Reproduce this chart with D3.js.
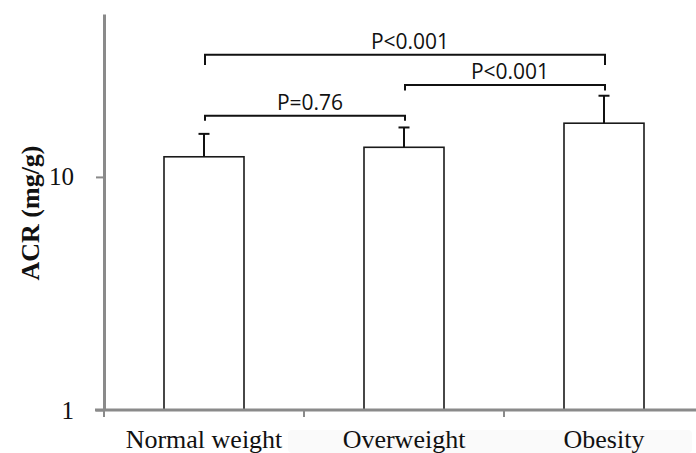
<!DOCTYPE html>
<html>
<head>
<meta charset="utf-8">
<script src="https://cdn.jsdelivr.net/npm/d3@7"></script>
<style>
  html, body { margin: 0; padding: 0; background: #fff; }
  svg { display: block; }
</style>
</head>
<body>
<svg id="chart"></svg>
<script>
// chart data
const categories = ['Normal weight', 'Overweight', 'Obesity']
const means = [12.2, 13.4, 17.0]
const upperErr = [15.3, 16.3, 22.3]
const yTicks = [1, 10]

// significance brackets: which bars, bracket level and foot (ACR units), label
const bracketFrom = [0, 1, 0]
const bracketTo = [1, 2, 2]
const bracketLevel = [18.3, 24.8, 33.4]
const bracketFoot = [17.4, 23.5, 30.2]
const bracketLabel = ['P=0.76', 'P<0.001', 'P<0.001']

const WIDTH = 696
const HEIGHT = 453
const AXIS_COLOR = '#8a8a8a'

const svg = d3.select('#chart')
  .attr('width', WIDTH)
  .attr('height', HEIGHT)

// x: one band per category, bars take the middle 40%
const x = d3.scaleBand()
  .domain(categories)
  .range([104, 704])
  .padding(0)

const y = d3.scaleLog()
  .domain([1, 50])
  .range([410, 14])

const bw = x.bandwidth()
const barW = bw * 0.4
const cx = (i) => x(categories[i]) + bw / 2

// very faint grey strip behind the category labels (as in the scan)
svg.append('rect')
  .attr('x', 288)
  .attr('y', 430)
  .attr('width', 404)
  .attr('height', 23)
  .attr('rx', 4)
  .attr('fill', '#fafafa')

// bars
svg.selectAll('rect.bar')
  .data(means)
  .join('rect')
  .attr('class', 'bar')
  .attr('x', (d, i) => cx(i) - barW / 2)
  .attr('y', (d) => y(d))
  .attr('width', barW)
  .attr('height', (d) => y(1) - y(d))
  .attr('fill', '#fff')
  .attr('stroke', '#1a1a1a')
  .attr('stroke-width', 1.6)

// error bars (upper only)
const err = svg.append('g')
  .attr('stroke', '#111')
  .attr('stroke-width', 2)
err.selectAll('line.stem')
  .data(upperErr)
  .join('line')
  .attr('class', 'stem')
  .attr('x1', (d, i) => cx(i))
  .attr('x2', (d, i) => cx(i))
  .attr('y1', (d, i) => y(means[i]))
  .attr('y2', (d) => y(d))
err.selectAll('line.cap')
  .data(upperErr)
  .join('line')
  .attr('class', 'cap')
  .attr('x1', (d, i) => cx(i) - 5.5)
  .attr('x2', (d, i) => cx(i) + 5.5)
  .attr('y1', (d) => y(d))
  .attr('y2', (d) => y(d))

// y axis
const yAxis = d3.axisLeft(y)
  .tickValues(yTicks)
  .tickFormat(d3.format('d'))
  .tickSize(8)
  .tickSizeOuter(0)
  .tickPadding(22)

svg.append('g')
  .attr('transform', 'translate(104,0)')
  .call(yAxis)
  .call((g) => {
    g.select('.domain')
      .attr('stroke', AXIS_COLOR)
      .attr('stroke-width', 3)
    g.selectAll('.tick line')
      .attr('stroke', AXIS_COLOR)
      .attr('stroke-width', 2)
    g.selectAll('.tick text')
      .attr('fill', '#111')
      .style('font-family', '"Liberation Serif", "Times New Roman", serif')
      .style('font-size', '25px')
  })

// x axis: line across, ticks at band edges
svg.append('line')
  .attr('x1', 95)
  .attr('x2', WIDTH)
  .attr('y1', y(1))
  .attr('y2', y(1))
  .attr('stroke', AXIS_COLOR)
  .attr('stroke-width', 3)

svg.selectAll('line.xtick')
  .data(categories)
  .join('line')
  .attr('class', 'xtick')
  .attr('x1', (d) => x(d))
  .attr('x2', (d) => x(d))
  .attr('y1', y(1))
  .attr('y2', y(1) + 7)
  .attr('stroke', AXIS_COLOR)
  .attr('stroke-width', 2)

svg.selectAll('text.xlabel')
  .data(categories)
  .join('text')
  .attr('class', 'xlabel')
  .attr('x', (d) => x(d) + bw / 2)
  .attr('y', 448)
  .attr('text-anchor', 'middle')
  .attr('fill', '#111')
  .style('font-family', '"Liberation Serif", "Times New Roman", serif')
  .style('font-size', '26px')
  .text((d) => d)

// y title
svg.append('text')
  .attr('transform', 'translate(39,213) rotate(-90)')
  .attr('text-anchor', 'middle')
  .attr('fill', '#111')
  .style('font-family', '"Liberation Serif", "Times New Roman", serif')
  .style('font-size', '26px')
  .style('font-weight', 'bold')
  .text('ACR (mg/g)')

// significance brackets
const brackets = svg.append('g')
bracketLabel.forEach((label, i) => {
  const x1 = cx(bracketFrom[i]) + 1
  const x2 = cx(bracketTo[i]) + 1
  const yl = y(bracketLevel[i])
  const yf = y(bracketFoot[i])
  brackets.append('path')
    .attr('d', `M${x1},${yf}V${yl}H${x2}V${yf}`)
    .attr('fill', 'none')
    .attr('stroke', '#111')
    .attr('stroke-width', 2)
  brackets.append('text')
    .attr('x', (x1 + x2) / 2 + 5)
    .attr('y', yl - 6)
    .attr('text-anchor', 'middle')
    .attr('fill', '#111')
    .style('font-family', '"Open Sans", sans-serif')
    .style('font-size', '21px')
    .text(label)
})
</script>
</body>
</html>
